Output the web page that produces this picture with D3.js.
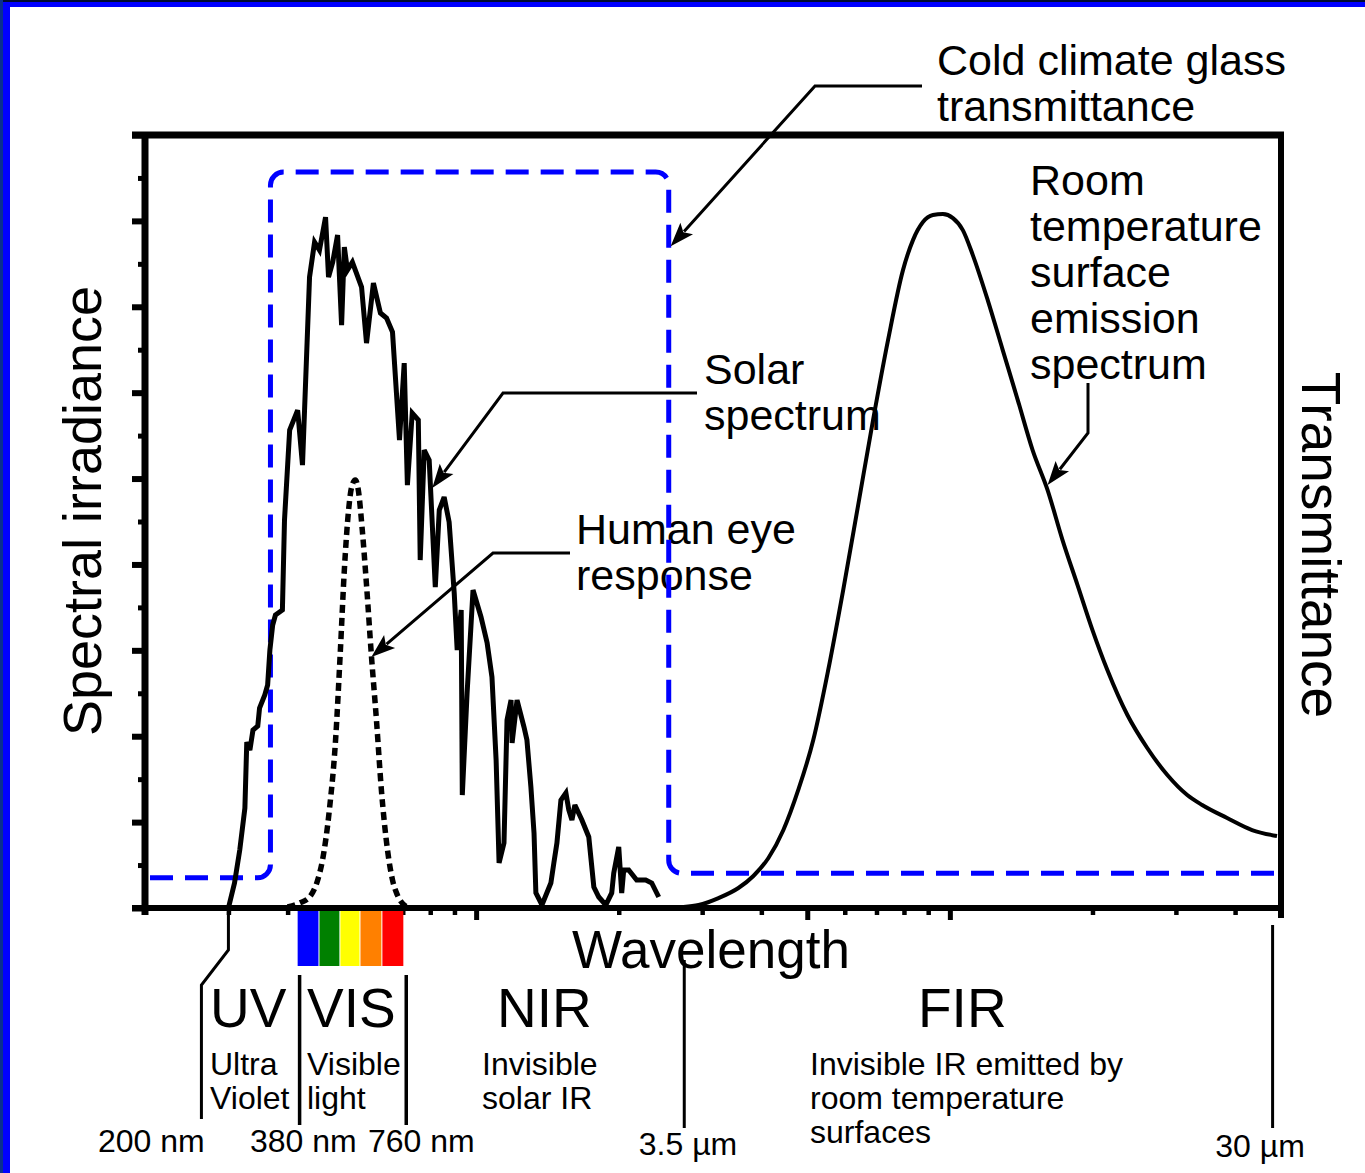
<!DOCTYPE html>
<html><head><meta charset="utf-8">
<script src="https://cdn.jsdelivr.net/npm/d3@7"></script>
<style>
body{margin:0;background:#fff}
svg{display:block}
text{font-family:"Liberation Sans",Arial,Helvetica,sans-serif;fill:#000}
</style>
</head><body><svg id="c" width="1365" height="1173"></svg>
<script>
// ---------- data ----------
// Solar spectrum: wavelength (µm) and irradiance (axis units 0–9)
const solarWl = [0.300,0.309,0.317,0.325,0.328,0.333,0.338,0.346,0.349,0.358,0.363,0.367,0.372,0.377,0.390,0.394,0.404,0.420,0.430,0.445,0.456,0.467,0.481,0.488,0.498,0.510,0.520,0.527,0.535,0.548,0.573,0.587,0.607,0.628,0.647,0.666,0.689,0.705,0.716,0.733,0.755,0.762,0.777,0.796,0.820,0.836,0.856,0.877,0.899,0.912,0.930,0.935,0.957,0.985,1.024,1.055,1.080,1.102,1.118,1.145,1.162,1.185,1.191,1.220,1.262,1.280,1.305,1.325,1.337,1.377,1.438,1.459,1.481,1.510,1.547,1.569,1.593,1.616,1.672,1.729,1.772,1.815,1.878,1.933,1.952,2.000,2.029,2.049,2.099,2.182,2.280,2.348,2.429];
const solarVal = [0,0.29,0.675,1.164,1.932,1.839,2.072,2.119,2.328,2.480,2.596,3.003,3.295,3.411,3.469,4.517,5.565,5.797,5.157,7.346,7.753,7.660,8.044,7.346,7.520,7.835,6.787,7.695,7.427,7.520,7.229,6.577,7.276,6.927,6.868,6.705,5.448,6.345,4.924,5.762,5.681,4.051,5.332,5.215,3.737,4.633,4.785,4.494,3.667,3.003,3.469,1.315,2.503,3.702,3.388,3.085,2.689,1.723,0.524,0.757,2.189,2.421,1.921,2.421,2.107,1.956,1.409,0.873,0.175,0.035,0.291,0.524,0.757,1.257,1.339,1.141,1.024,1.199,1.024,0.827,0.244,0.128,0.035,0.175,0.407,0.710,0.175,0.442,0.442,0.326,0.326,0.291,0.128];

// Human eye response
const eyeWl = [0.400,0.424,0.445,0.463,0.474,0.490,0.505,0.517,0.527,0.538,0.546,0.556,0.564,0.575,0.587,0.601,0.616,0.631,0.650,0.666,0.682,0.705,0.730];
const eyeVal = [0.012,0.058,0.128,0.326,0.559,1.141,1.956,3.003,3.935,4.633,4.901,4.983,4.866,4.400,3.760,2.945,2.189,1.374,0.675,0.326,0.151,0.035,0];

// Room temperature surface emission spectrum
const roomWl = [2.740,2.948,3.248,3.578,3.848,4.140,4.452,4.786,5.148,5.536,5.954,6.404,6.884,7.404,7.962,8.358,8.774,9.208,9.666,10.15,10.65,11.18,12.02,12.93,13.91,14.95,16.08,17.29,18.60,20.0,21.50,23.70,26.10,28.78,31.70,34.08,38.48,43.44,49.04];
const roomVal = [0.012,0.035,0.116,0.233,0.373,0.582,0.908,1.374,1.956,2.771,3.702,4.692,5.681,6.612,7.427,7.776,7.986,8.068,8.079,8.033,7.893,7.602,7.078,6.496,5.914,5.332,4.866,4.284,3.760,3.236,2.771,2.247,1.863,1.548,1.315,1.199,1.048,0.908,0.838];

// Cold climate glass transmittance (step, 0–1): band edges and levels
const glassEdges = [0.2, 0.368, 2.55, 50];
const glassLevels = [0.039, 0.952, 0.045];

// Visible colour bands
const visEdges = [0.42, 0.467, 0.517, 0.57, 0.634, 0.702];
const visColors = ["#0000ff", "#008000", "#ffff00", "#ff8000", "#ff0000"];

// Axis ticks
const xMinorTicks = [0.2,0.3,0.4,0.5,0.6,0.7,0.8,0.9,2,3,4,6,7,8,9,20,30,40,50];
const xMajorTicks = [1,5,10];
const yMajorTicks = [0,1,2,3,4,5,6,7,8,9];
const yMinorTicks = [0.5,1.5,2.5,3.5,4.5,5.5,6.5,7.5,8.5];

// Region dividers (µm) and labels
const dividerWl = [0.424, 0.712, 2.75, 48];
const regionNames = ["UV", "VIS", "NIR", "FIR"];
const edgeLabels = ["200 nm", "380 nm", "760 nm", "3.5 µm", "30 µm"];

// ---------- chart ----------
const W = 1365, H = 1173;
const svg = d3.select("#c");
const x = d3.scaleLog().domain([0.2, 50]).range([145, 1281]);
const y = d3.scaleLinear().domain([0, 9]).range([908, 135]);
const yT = d3.scaleLinear().domain([0, 1]).range([908, 135]);

// page frame
svg.append("rect").attr("width", W).attr("height", H).attr("fill", "#fff");
svg.append("rect").attr("x", 0).attr("y", 0).attr("width", 3).attr("height", H).attr("fill", "#0a2f8f");
svg.append("rect").attr("x", 3).attr("y", 0).attr("width", 7).attr("height", H).attr("fill", "#0000ff");
svg.append("rect").attr("x", 3).attr("y", 0).attr("width", W).attr("height", 2).attr("fill", "#000a30");
svg.append("rect").attr("x", 10).attr("y", 2).attr("width", W).attr("height", 5).attr("fill", "#0000ff");

const x0 = x(0.2), x1 = x(50), yb = y(0), yt = y(9);

// ticks
function styleAxis(g, w) { g.select(".domain").remove(); g.selectAll("line").attr("stroke", "#000").attr("stroke-width", w); }
styleAxis(svg.append("g").attr("transform", `translate(${x0},0)`)
  .call(d3.axisLeft(y).tickValues(yMajorTicks).tickSize(13).tickSizeOuter(0).tickFormat("")), 6);
styleAxis(svg.append("g").attr("transform", `translate(${x0},0)`)
  .call(d3.axisLeft(y).tickValues(yMinorTicks).tickSize(7).tickSizeOuter(0).tickFormat("")), 5);
styleAxis(svg.append("g").attr("transform", `translate(0,${yb})`)
  .call(d3.axisBottom(x).tickValues(xMinorTicks).tickSize(7).tickSizeOuter(0).tickFormat("")), 4.5);
styleAxis(svg.append("g").attr("transform", `translate(0,${yb})`)
  .call(d3.axisBottom(x).tickValues(xMajorTicks).tickSize(12).tickSizeOuter(0).tickFormat("")), 5);

// frame lines
const frame = svg.append("g").attr("stroke", "#000");
frame.append("line").attr("x1", x0).attr("x2", x0).attr("y1", yt - 3).attr("y2", yb + 7).attr("stroke-width", 7);
frame.append("line").attr("x1", x0 - 13).attr("x2", x1 + 3).attr("y1", yb).attr("y2", yb).attr("stroke-width", 6);
frame.append("line").attr("x1", x0 - 13).attr("x2", x1 + 3).attr("y1", yt).attr("y2", yt).attr("stroke-width", 7);
frame.append("line").attr("x1", x1).attr("x2", x1).attr("y1", yt - 3).attr("y2", yb + 10).attr("stroke-width", 6);

// visible colour bar
svg.append("g").selectAll("rect").data(visColors).join("rect")
  .attr("x", (d, i) => x(visEdges[i]))
  .attr("width", (d, i) => x(visEdges[i + 1]) - x(visEdges[i]) - (i < visColors.length - 1 ? 1 : 0))
  .attr("y", yb + 3).attr("height", 55).attr("fill", d => d);

// region divider lines
const dv = svg.append("g").attr("stroke", "#000").attr("fill", "none").attr("stroke-width", 3.5);
const xUV = x(0.3);
dv.append("path").attr("stroke-width", 3).attr("d", `M${xUV},${yb + 4}V950L${xUV - 27},985V1119`);
dv.append("line").attr("x1", x(dividerWl[0])).attr("x2", x(dividerWl[0])).attr("y1", 975).attr("y2", 1125);
dv.append("line").attr("x1", x(dividerWl[1])).attr("x2", x(dividerWl[1])).attr("y1", 975).attr("y2", 1125);
dv.append("line").attr("x1", x(dividerWl[2])).attr("x2", x(dividerWl[2])).attr("y1", 960).attr("y2", 1128).attr("stroke-width", 3);
dv.append("line").attr("x1", x(dividerWl[3])).attr("x2", x(dividerWl[3])).attr("y1", 925).attr("y2", 1128).attr("stroke-width", 3);

// texts
function txt(s, px, py, size, anchor, transform) {
  const t = svg.append("text").attr("font-size", size).attr("text-anchor", anchor || "start").text(s);
  if (transform) t.attr("transform", transform); else t.attr("x", px).attr("y", py);
  return t;
}
function multi(lines, px, py, size, lh) {
  const t = svg.append("text").attr("font-size", size).attr("x", px).attr("y", py);
  t.selectAll("tspan").data(lines).join("tspan")
    .attr("x", px).attr("dy", (d, i) => i === 0 ? 0 : lh).text(d => d);
  return t;
}

txt("Wavelength", 711, 968, 53, "middle");
txt("Spectral irradiance", 0, 0, 54, "middle", "translate(101,511) rotate(-90)");
txt("Transmittance", 0, 0, 55, "middle", "translate(1302,545) rotate(90)");

[210, 307, 497, 918].forEach((px, i) => txt(regionNames[i], px, 1027, 55));
multi(["Ultra", "Violet"], 210, 1075, 32, 34);
multi(["Visible", "light"], 307, 1075, 32, 34);
multi(["Invisible", "solar IR"], 482, 1075, 32, 34);
multi(["Invisible IR emitted by", "room temperature", "surfaces"], 810, 1075, 32, 34);
txt(edgeLabels[0], 98, 1152, 32);
txt(edgeLabels[1], 250, 1152, 32);
txt(edgeLabels[2], 368, 1152, 32);
txt(edgeLabels[3], 688, 1155, 32, "middle");
txt(edgeLabels[4], 1260, 1157, 32, "middle");

multi(["Cold climate glass", "transmittance"], 937, 75, 43, 46);
multi(["Room", "temperature", "surface", "emission", "spectrum"], 1030, 195, 43, 46);
multi(["Solar", "spectrum"], 704, 384, 43, 46);
multi(["Human eye", "response"], 576, 544, 43, 46);

// glass transmittance (rounded step)
const gp = d3.path();
gp.moveTo(x(glassEdges[0]), yT(glassLevels[0]));
gp.arcTo(x(glassEdges[1]), yT(glassLevels[0]), x(glassEdges[1]), yT(glassLevels[1]), 13);
gp.arcTo(x(glassEdges[1]), yT(glassLevels[1]), x(glassEdges[2]), yT(glassLevels[1]), 13);
gp.arcTo(x(glassEdges[2]), yT(glassLevels[1]), x(glassEdges[2]), yT(glassLevels[2]), 13);
gp.arcTo(x(glassEdges[2]), yT(glassLevels[2]), x(glassEdges[3]), yT(glassLevels[2]), 13);
gp.lineTo(x(glassEdges[3]), yT(glassLevels[2]));
svg.append("path").attr("d", gp.toString()).attr("fill", "none").attr("stroke", "#0000ff")
  .attr("stroke-width", 5).attr("stroke-dasharray", "23,12").attr("stroke-dashoffset", -5);

// curves
const solar = solarWl.map((w, i) => [w, solarVal[i]]);
const eye = eyeWl.map((w, i) => [w, eyeVal[i]]);
const room = roomWl.map((w, i) => [w, roomVal[i]]);
const lineLin = d3.line().x(d => x(d[0])).y(d => y(d[1]));
const lineSm = d3.line().x(d => x(d[0])).y(d => y(d[1])).curve(d3.curveMonotoneX);

svg.append("path").attr("d", lineSm(room)).attr("fill", "none").attr("stroke", "#000").attr("stroke-width", 4);
svg.append("path").attr("d", lineSm(eye)).attr("fill", "none").attr("stroke", "#000")
  .attr("stroke-width", 5.5).attr("stroke-dasharray", "8,5");
svg.append("path").attr("d", lineLin(solar)).attr("fill", "none").attr("stroke", "#000")
  .attr("stroke-width", 5).attr("stroke-linejoin", "miter").attr("stroke-miterlimit", 3);

// annotation arrows: tip in data coordinates, elbow/start in layout pixels
const arrows = [
  { start: [922, 86], elbow: [815, 86], tip: [x(2.574), yT(0.856)] },
  { start: [697, 393], elbow: [503, 393], tip: [x(0.808), y(4.889)] },
  { start: [570, 553], elbow: [493, 553], tip: [x(0.601), y(2.922)] },
  { start: [1088, 383], elbow: [1088, 433], tip: [x(16.08), y(4.924)] }
];
const ag = svg.append("g");
arrows.forEach(a => {
  const [tx, ty] = a.tip, [ex, ey] = a.elbow;
  const dx = tx - ex, dy = ty - ey, L = Math.hypot(dx, dy), ux = dx / L, uy = dy / L;
  const hl = 24, hw = 8.5;
  const bx = tx - ux * hl, by = ty - uy * hl;
  ag.append("path").attr("fill", "none").attr("stroke", "#000").attr("stroke-width", 3)
    .attr("d", `M${a.start[0]},${a.start[1]}L${ex},${ey}L${bx + ux * 4},${by + uy * 4}`);
  ag.append("path").attr("fill", "#000")
    .attr("d", `M${tx},${ty}L${bx - uy * hw},${by + ux * hw}L${bx + ux * 5},${by + uy * 5}L${bx + uy * hw},${by - ux * hw}Z`);
});
</script>
</body></html>
